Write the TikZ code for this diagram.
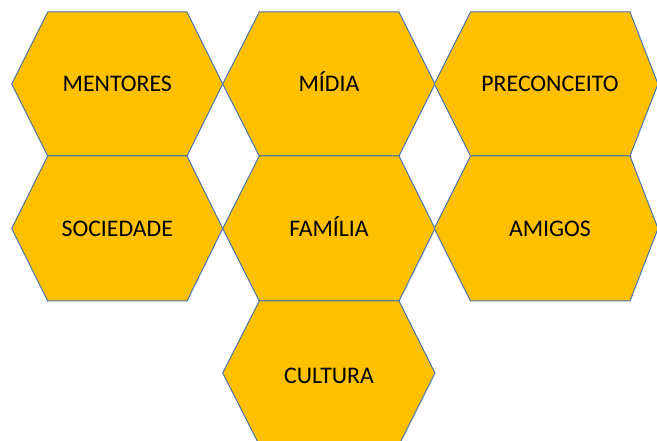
\documentclass[tikz,border=0pt]{standalone}
\usepackage{fontspec}
\setmainfont{Carlito}
\definecolor{hexfill}{HTML}{FFC000}
\definecolor{hexline}{HTML}{4A76A8}
\begin{document}
\begin{tikzpicture}[x=1pt,y=-1pt,
  hexs/.style={fill=hexfill,draw=hexline,line width=1pt,line join=miter},
  lbl/.style={font=\fontsize{23.8}{28}\selectfont,text=black,inner sep=0pt,anchor=base}]
\useasboundingbox (0,0) rectangle (657,441);
\clip (0,0) rectangle (657,441);
% row 1
\draw[hexs] (11.7,84) -- (47.7,12) -- (187,12) -- (222.7,84) -- (187,156) -- (47.7,156) -- cycle;
\draw[hexs] (222.7,84) -- (259.3,12) -- (399,12) -- (435,84) -- (399,156) -- (259.3,156) -- cycle;
\draw[hexs] (434.3,84) -- (470.5,12) -- (630,12) -- (658,84) -- (630,156) -- (470.5,156) -- cycle;
% row 2
\draw[hexs] (11.7,228.5) -- (47.7,156) -- (187,156) -- (222.7,228.5) -- (187,301) -- (47.7,301) -- cycle;
\draw[hexs] (222.7,228.5) -- (259.3,156) -- (399,156) -- (435,228.5) -- (399,301) -- (259.3,301) -- cycle;
\draw[hexs] (434.3,228.5) -- (470.5,156) -- (630,156) -- (658,228.5) -- (630,301) -- (470.5,301) -- cycle;
% row 3
\draw[hexs] (222.7,373) -- (259.3,301) -- (399,301) -- (435,373) -- (399,445) -- (259.3,445) -- cycle;
% labels
\node[lbl] (mentores) at (117.3,92) {MENTORES};
\node[lbl] (midia) at (329,92) {MÍDIA};
\node[lbl] (preconceito) at (550,92) {PRECONCEITO};
\node[lbl] (sociedade) at (117.3,237) {SOCIEDADE};
\node[lbl] (familia) at (329,237) {FAMÍLIA};
\node[lbl] (amigos) at (550,237) {AMIGOS};
\node[lbl] (cultura) at (329,383) {CULTURA};
\end{tikzpicture}
\end{document}
